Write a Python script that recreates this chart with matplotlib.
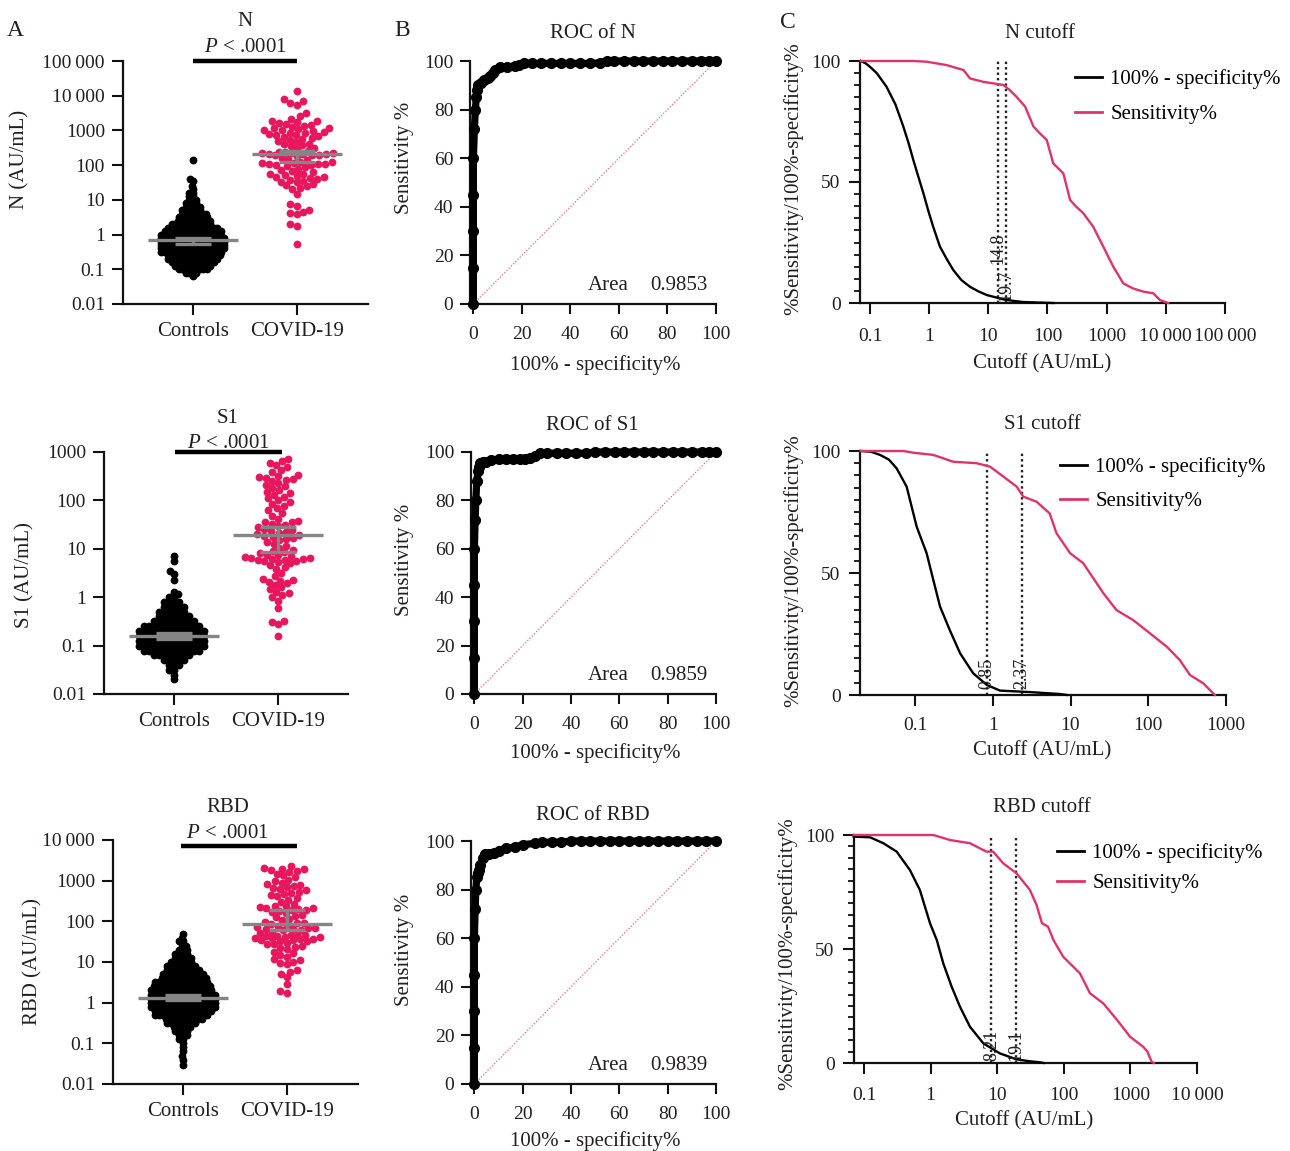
import numpy as np
import matplotlib
matplotlib.use('Agg')
import matplotlib.pyplot as plt
from matplotlib.lines import Line2D
from matplotlib.ticker import FixedLocator, MultipleLocator, NullLocator

plt.rcParams['font.family'] = ['Liberation Serif', 'DejaVu Serif']
plt.rcParams['mathtext.fontset'] = 'custom'
plt.rcParams['mathtext.rm'] = 'Liberation Serif'
plt.rcParams['mathtext.it'] = 'Liberation Serif:italic'

# ----------------------------------------------------------------- DATA
groups = ['Controls', 'COVID-19']

# --- N  (controls given as value levels and number of dots at each level)
ctrl_N_levels = [0.063, 0.079, 0.10, 0.126, 0.158, 0.20, 0.25, 0.32, 0.40, 0.50, 0.63, 0.79,
                 1.0, 1.26, 1.58, 2.0, 2.5, 3.2, 4.0, 5.0, 6.3, 7.9, 10, 12.6, 15.8, 20, 25, 35, 40, 140]
ctrl_N_counts = [1, 4, 9, 11, 13, 15, 16, 18, 19, 19, 19, 19,
                 18, 17, 15, 12, 10, 9, 8, 6, 5, 4, 3, 2, 2, 1, 1, 1, 1, 1]
covid_N = [0.55, 1.8, 2.0, 3.8, 4.3, 4.6, 5.0, 6.5, 7.5, 15, 20, 22, 24.5, 26, 28,
           32, 33.5, 36, 38, 40, 42, 45, 47, 50, 52, 55, 57, 62, 68, 73, 80, 88, 95,
           100, 102, 105, 108, 110, 113, 116, 120, 123, 140, 150, 165, 180,
           190, 194, 200, 205, 210, 214, 220, 226, 230, 235, 240, 260, 290, 320, 350, 372, 395,
           420, 460, 500, 540, 580, 620, 650, 690, 720, 760, 800, 840, 870,
           900, 950, 1000, 1050, 1100, 1150, 1200, 1280, 1350, 1450, 1550, 1650, 1750, 1850, 1900,
           2200, 2600, 3200, 5500, 6200, 7000, 7800, 14000]
med_N = [0.68, 204]
ci_lo_N = [0.55, 122]
ci_hi_N = [0.82, 257]

# --- S1
ctrl_S1_levels = [0.02, 0.025, 0.032, 0.04, 0.05, 0.063, 0.079, 0.10, 0.126, 0.158, 0.20, 0.25,
                  0.32, 0.40, 0.50, 0.63, 0.79, 1.0, 1.15, 1.3, 2.3, 3.0, 3.5, 5.5, 7.0]
ctrl_S1_counts = [1, 1, 2, 3, 5, 8, 12, 14, 14, 14, 14, 12,
                  9, 7, 6, 5, 4, 2, 1, 1, 1, 1, 1, 1, 1]
covid_S1 = [0.16, 0.28, 0.31, 0.33, 0.6, 0.85, 1.0, 1.1, 1.2, 1.3, 1.45, 1.6, 1.8, 1.95,
            2.1, 2.2, 2.3, 2.4, 2.7, 3.2, 3.9, 4.2, 4.6, 5.0, 5.3,
            5.5, 5.7, 5.9, 6.0, 6.2, 6.3, 6.4, 6.5, 6.8, 7.0, 7.3, 7.6, 8.0, 8.5, 9.0, 9.5,
            10.5, 11.5, 12.5, 14, 15, 16, 16.8, 17.5, 18.5, 19, 20, 21, 22, 23.5, 25, 26,
            28, 30, 31, 33, 35, 36.5, 38, 42, 48, 55, 62, 70, 78, 85, 92, 100,
            110, 120, 130, 140, 150, 165, 180, 195, 210, 230, 250,
            265, 280, 295, 310, 325, 340, 380, 430, 490, 540, 600, 650, 700]
med_S1 = [0.158, 19.3]
ci_lo_S1 = [0.14, 8.5]
ci_hi_S1 = [0.18, 28]

# --- RBD
ctrl_RBD_levels = [0.03, 0.04, 0.05, 0.063, 0.079, 0.10, 0.126, 0.158, 0.20, 0.25, 0.32, 0.40,
                   0.50, 0.63, 0.79, 1.0, 1.26, 1.58, 2.0, 2.5, 3.2, 4.0, 5.0, 6.3, 7.9,
                   10, 12.6, 15.8, 20, 25, 32, 40, 50]
ctrl_RBD_counts = [1, 1, 1, 1, 1, 1, 2, 3, 4, 5, 8, 10,
                   14, 15, 17, 17, 17, 17, 16, 15, 14, 12, 11, 9, 8,
                   6, 5, 4, 3, 2, 2, 1, 1]
covid_RBD = [1.7, 1.9, 2.8, 4.2, 5.0, 5.8, 6.5, 9.0, 9.5, 10, 11, 12, 13.5, 15, 16.5, 18,
             20.5, 22, 23.5, 25, 27, 28.5, 30, 32, 33, 34, 35, 36, 37, 38.5,
             40, 41, 42, 43, 44, 45, 46, 46.8, 52, 56, 60, 62, 64, 66, 68, 69,
             73, 77, 81, 85, 89, 93, 97, 105, 115, 125, 135, 145, 158, 170,
             180, 188, 195, 203, 210, 218, 225, 235, 245, 270, 300, 340, 380,
             410, 440, 470, 500, 540, 580, 620, 660, 700, 740, 790, 840, 900, 960,
             1050, 1200, 1350, 1500, 1600, 1700, 1800, 1900, 1950, 2050, 2300]
med_RBD = [1.33, 87]
ci_lo_RBD = [1.15, 62]
ci_hi_RBD = [1.52, 185]

# --- ROC curves (100% - specificity%, sensitivity%)
roc_N_fpr = [0, 0, 0, 0, 0, 0.4, 0.8, 1.2, 1.6, 2.0, 3.0, 4.5, 6.0, 7.0, 8.0, 9.0, 11, 14, 17, 19, 21,
             24, 28, 32, 36, 40, 44, 48, 52, 55, 58, 62, 66, 70, 74, 78, 82, 86, 90, 94, 97, 100]
roc_N_tpr = [0, 15, 30, 45, 60, 72, 80, 85, 88, 90, 91, 92, 93, 94, 95, 96.5, 97.5, 97.5, 98, 98.5, 99,
             99, 99, 99, 99, 99, 99, 99, 99.2, 100, 100, 100, 100, 100, 100, 100, 100, 100, 100, 100, 100, 100]
roc_S1_fpr = [0, 0, 0, 0, 0, 0.3, 0.6, 1.0, 1.5, 2.0, 2.5, 3.5, 5, 7, 10, 13, 16, 19, 21, 23, 25, 27,
              30, 34, 38, 42, 46, 50, 54, 58, 62, 66, 70, 74, 78, 82, 86, 90, 94, 97, 100]
roc_S1_tpr = [0, 15, 30, 45, 60, 72, 80, 88, 92, 94, 95.5, 96, 96, 96.5, 97, 97, 97, 97, 97, 97.5, 98.5, 99.5,
              99.5, 99.5, 99.5, 99.5, 99.5, 100, 100, 100, 100, 100, 100, 100, 100, 100, 100, 100, 100, 100, 100]
roc_RBD_fpr = [0, 0, 0, 0, 0, 0.3, 0.6, 1.0, 1.5, 2.0, 2.5, 3.5, 4.5, 6, 8, 10, 13, 17, 20, 25, 28,
               32, 36, 40, 44, 48, 52, 56, 60, 64, 68, 72, 76, 80, 84, 88, 92, 96, 100]
roc_RBD_tpr = [0, 15, 30, 45, 60, 72, 80, 85, 87, 88, 90, 93, 94.5, 94.5, 95, 96, 97, 97.5, 98.5, 99, 99.5,
               99.5, 99.5, 100, 100, 100, 100, 100, 100, 100, 100, 100, 100, 100, 100, 100, 100, 100, 100]
roc_area = ['0.9853', '0.9859', '0.9839']

# --- Cutoff curves (cutoff AU/mL, percent)
cutN_blk_x = [0.07, 0.085, 0.1, 0.13, 0.19, 0.27, 0.366, 0.45, 0.54, 0.66, 0.8, 0.97, 1.17, 1.52, 2.0,
              2.56, 3.5, 4.9, 6.8, 9.4, 13, 17.9, 26, 39, 70, 126]
cutN_blk_y = [100, 99, 97.6, 95, 89.4, 82, 72.9, 66, 59.1, 52, 45.3, 38, 31.5, 23.3, 18,
              13.6, 9.5, 6.7, 4.8, 3.3, 2.4, 1.5, 0.9, 0.4, 0.2, 0]
cutN_red_x = [0.07, 0.54, 0.91, 1.98, 3.0, 3.8, 4.9, 8.2, 17.9, 23, 30, 42, 58, 75, 97, 125, 185, 241,
              300, 403, 594, 877, 1295, 1910, 2800, 4160, 6140, 7970, 11000]
cutN_red_y = [100, 100, 99.7, 98.3, 97, 96.3, 92.8, 91.4, 90.1, 88, 85.2, 81.1, 72.9, 70, 67.4, 57.7, 53.6, 42.6,
              40, 37.1, 31.5, 23.3, 15.0, 8.1, 6, 4.7, 4.0, 1.2, 0]
cutN_lines = [14.8, 19.7]

cutS1_blk_x = [0.02, 0.027, 0.0355, 0.046, 0.058, 0.078, 0.105, 0.141, 0.172, 0.21, 0.28, 0.38, 0.56,
               0.84, 1.24, 3.0, 7.3, 9.0]
cutS1_blk_y = [100, 99.7, 98.4, 96.5, 92.9, 85.4, 69.0, 58.1, 47.1, 36.2, 26.6, 17.1, 8.9,
               4.1, 1.8, 1.2, 0.4, 0]
cutS1_red_x = [0.02, 0.071, 0.095, 0.172, 0.31, 0.62, 0.92, 1.37, 2.03, 2.47, 3.67, 5.4, 6.6, 9.9, 14.6,
               17.8, 26.5, 39, 64, 105, 173, 255, 344, 510, 720]
cutS1_red_y = [100, 100, 99.3, 98.4, 95.6, 95.0, 93.6, 89.5, 85.4, 81.3, 79.2, 74.4, 66.3, 58.1, 54.0,
               49.9, 41.7, 34.8, 30.7, 25.3, 19.8, 14.3, 8.2, 4.8, 0]
cutS1_lines = [0.85, 2.37]

cutRBD_blk_x = [0.07, 0.123, 0.195, 0.31, 0.49, 0.69, 0.98, 1.24, 1.55, 2.07, 2.76, 3.9, 6.2, 11, 19.5,
                30, 44, 50]
cutRBD_blk_y = [99.3, 99.0, 96.4, 92.7, 84.6, 75.9, 61.3, 53.9, 43.7, 33.5, 24.7, 15.9, 8.6, 4.2, 1.6,
                0.8, 0.3, 0]
cutRBD_red_x = [0.07, 1.1, 1.95, 3.9, 6.9, 8.7, 12.3, 19.5, 31, 39, 47, 58, 70, 98, 175, 247, 390, 630,
                990, 1560, 1800, 2080, 2250]
cutRBD_red_y = [100, 100, 97.8, 96.4, 92.7, 92.7, 87.6, 83.2, 75.9, 69.3, 61.3, 59.8, 53.9, 46.6, 39.3,
                30.6, 26.2, 18.9, 11.5, 7.1, 5.0, 0.6, 0]
cutRBD_lines = [8.21, 19.1]

# ----------------------------------------------------------------- STYLE
W, H = 1290, 1151
fig = plt.figure(figsize=(W / 100, H / 100), dpi=100)
PINK_DOT = '#E8175D'
PINK_LINE = '#E0336B'
GRAY = '#858585'
TXT = '#231F20'
FS = 15
TFS = 14


def add_ax(L, R, T, B):
    return fig.add_axes([L / W, 1 - B / H, (R - L) / W, (B - T) / H])


def ftext(x, y, s, **kw):
    kw.setdefault('fontsize', FS)
    kw.setdefault('color', TXT)
    kw.setdefault('ha', 'center')
    kw.setdefault('va', 'center')
    fig.text(x / W, 1 - y / H, s, **kw)


def style(ax, ticklen=7, pad=4):
    for s in ['top', 'right']:
        ax.spines[s].set_visible(False)
    for s in ['left', 'bottom']:
        ax.spines[s].set_linewidth(1.6)
        ax.spines[s].set_color('#111111')
    ax.tick_params(which='major', direction='out', length=ticklen, width=1.5, color='#111111',
                   labelsize=TFS, labelcolor=TXT, pad=pad)
    ax.tick_params(which='minor', direction='out', length=4, width=1.3, color='#111111')


def swarm(ypix, d, maxhalf):
    order = np.argsort(ypix, kind='stable')
    cand = np.arange(-maxhalf, maxhalf + 0.01, 0.5)
    cand = cand[np.argsort(np.abs(cand), kind='stable')]
    PX, PY = [], []
    xs = np.zeros(len(ypix))
    for i in order:
        y = ypix[i]
        x = 0.0
        if PX:
            ax_ = np.array(PX); ay_ = np.array(PY)
            m = np.abs(ay_ - y) < d
            if m.any():
                dx = cand[:, None] - ax_[m][None, :]
                dist = np.sqrt(dx ** 2 + ((ay_[m] - y) ** 2)[None, :]).min(axis=1)
                ok = np.where(dist >= d * 0.999)[0]
                x = cand[ok[0]] if len(ok) else cand[np.argmax(dist)]
        xs[i] = x
        PX.append(x); PY.append(y)
    return xs


def scatter_panel(box, xlim, ylim, yticks, ylabels, levels, counts, covid, med, lo, hi, bar):
    ax = add_ax(*box)
    ax.set_yscale('log')
    ax.set_ylim(*ylim)
    ax.set_xlim(*xlim)
    style(ax, ticklen=8, pad=5)
    ax.yaxis.set_major_locator(FixedLocator(yticks))
    ax.yaxis.set_minor_locator(NullLocator())
    ax.set_yticklabels(ylabels)
    ax.set_xticks([0, 1])
    ax.set_xticklabels(groups, fontsize=FS)
    ppu = (box[1] - box[0]) / (xlim[1] - xlim[0])
    dm = 7.8
    # pixel height of one 0.1-decade step -> spacing of control dots
    row_px = (box[3] - box[2]) / (10 * np.log10(ylim[1] / ylim[0]))
    ds_ctrl = min(4.6, 0.98 * row_px)
    for gi, (vals, col, ds, mh) in enumerate([(np.repeat(levels, counts), 'black', ds_ctrl, 37),
                                              (np.array(covid, float), PINK_DOT, 6.6, 36)]):
        ypix = ax.transData.transform(np.column_stack([np.zeros(len(vals)), vals]))[:, 1]
        xs = swarm(ypix, ds, mh)
        ax.scatter(gi + xs / ppu, vals, s=(dm * 0.72) ** 2, c=col, linewidths=0, zorder=2, clip_on=False)
        ax.hlines(med[gi], gi - 0.43, gi + 0.43, color=GRAY, lw=2.4, zorder=4)
        ax.vlines(gi, lo[gi], hi[gi], color=GRAY, lw=2.4, zorder=4)
        ax.hlines([lo[gi], hi[gi]], gi - 0.17, gi + 0.17, color=GRAY, lw=2.4, zorder=4)
    ax.plot([bar[0], bar[1]], [bar[2], bar[2]], color='black', lw=3.2, clip_on=False,
            solid_capstyle='butt', zorder=5)
    return ax


def roc_panel(box, fpr, tpr, area):
    ax = add_ax(*box)
    ax.set_xlim(-1.4, 100)
    ax.set_ylim(0, 100)
    style(ax, ticklen=7, pad=9)
    ax.set_xticks([0, 20, 40, 60, 80, 100])
    ax.set_yticks([0, 20, 40, 60, 80, 100])
    ax.tick_params(axis='y', pad=5)
    ax.plot([0, 100], [0, 100], color='#E46A6A', lw=0.9, ls=(0, (1, 1.5)), zorder=2)
    ax.plot(fpr, tpr, color='black', lw=5.2, marker='o', ms=7.0, clip_on=False, zorder=3)
    ax.text(47, 7.5, 'Area', fontsize=FS, color=TXT, ha='left', va='center')
    ax.text(96.5, 7.5, area, fontsize=FS, color=TXT, ha='right', va='center')
    return ax


def cutoff_panel(box, xlim, xticks, xlabels, bx, by, rx, ry, lines, line_lab_y, leg, xpad):
    ax = add_ax(*box)
    ax.set_xscale('log')
    ax.set_xlim(*xlim)
    ax.set_ylim(0, 100)
    style(ax, ticklen=8, pad=6)
    ax.tick_params(axis='x', pad=xpad)
    ax.xaxis.set_major_locator(FixedLocator(xticks))
    ax.xaxis.set_minor_locator(NullLocator())
    ax.set_xticklabels(xlabels)
    ax.set_yticks([0, 50, 100])
    ax.yaxis.set_minor_locator(MultipleLocator(5))
    ax.plot(bx, by, color='black', lw=1.7, zorder=3, clip_on=False)
    ax.plot(rx, ry, color=PINK_LINE, lw=1.7, zorder=3, clip_on=False)
    for v, ly in zip(lines, line_lab_y):
        ax.plot([v, v], [0, 100], color='#222222', lw=1.7, ls=(0, (1, 1.3)), zorder=2)
        ax.text(v, ly, f'{v:g}', rotation=90, fontsize=13, color=TXT, ha='center', va='bottom', zorder=4)
    handles = [Line2D([], [], color='black', lw=2.0), Line2D([], [], color=PINK_LINE, lw=2.0)]
    ax.legend(handles, ['100% - specificity%', 'Sensitivity%'], loc='upper left',
              bbox_to_anchor=(leg[0] / W, 1 - leg[1] / H), bbox_transform=fig.transFigure,
              frameon=False, fontsize=FS, handlelength=1.3, handletextpad=0.4,
              labelspacing=leg[2], borderpad=0, borderaxespad=0)
    return ax


TS = '\u2009'
# ----------------------------------------------------------------- PANEL A
scatter_panel((123, 368, 61, 304), (-0.673, 1.683), (0.01, 1e5),
              [0.01, 0.1, 1, 10, 100, 1000, 1e4, 1e5],
              ['0.01', '0.1', '1', '10', '100', '1000', f'10{TS}000', f'100{TS}000'],
              ctrl_N_levels, ctrl_N_counts, covid_N, med_N, ci_lo_N, ci_hi_N, (0, 1, 1e5))
scatter_panel((104, 348, 452, 694), (-0.673, 1.673), (0.01, 1e3),
              [0.01, 0.1, 1, 10, 100, 1000],
              ['0.01', '0.1', '1', '10', '100', '1000'],
              ctrl_S1_levels, ctrl_S1_counts, covid_S1, med_S1, ci_lo_S1, ci_hi_S1, (0.01, 1.04, 1e3))
scatter_panel((113, 358, 840, 1084), (-0.673, 1.683), (0.01, 1e4),
              [0.01, 0.1, 1, 10, 100, 1000, 1e4],
              ['0.01', '0.1', '1', '10', '100', '1000', f'10{TS}000'],
              ctrl_RBD_levels, ctrl_RBD_counts, covid_RBD, med_RBD, ci_lo_RBD, ci_hi_RBD, (-0.02, 1.1, 7000))

ftext(15, 31, 'A', fontsize=17)
for (x, y, s) in [(245, 22, 'N'), (228, 419, 'S1'), (228, 807, 'RBD')]:
    ftext(x, y, s)
for (x, y) in [(245, 47), (228, 444), (227, 834)]:
    ftext(x, y, '$P$ < .0001')
ftext(20, 159, 'N (AU/mL)', rotation=90)
ftext(25, 575, 'S1 (AU/mL)', rotation=90)
ftext(33, 962, 'RBD (AU/mL)', rotation=90)

# ----------------------------------------------------------------- PANEL B
roc_panel((470, 716, 61, 304), roc_N_fpr, roc_N_tpr, roc_area[0])
roc_panel((471, 716, 452, 694), roc_S1_fpr, roc_S1_tpr, roc_area[1])
roc_panel((471, 716, 841, 1084), roc_RBD_fpr, roc_RBD_tpr, roc_area[2])
ftext(402, 31, 'B', fontsize=17)
for (x, y, s) in [(593, 33, 'ROC of N'), (592, 425, 'ROC of S1'), (593, 815, 'ROC of RBD')]:
    ftext(x, y, s)
for y in [158, 560, 950]:
    ftext(405, y, 'Sensitivity %', rotation=90)
for y in [365, 753, 1141]:
    ftext(595, y, '100% - specificity%')

# ----------------------------------------------------------------- PANEL C
cutoff_panel((860, 1225, 61, 303), (0.0678, 1e5), [0.1, 1, 10, 100, 1000, 1e4, 1e5],
             ['0.1', '1', '10', '100', '1000', f'10{TS}000', f'100{TS}000'],
             cutN_blk_x, cutN_blk_y, cutN_red_x, cutN_red_y, cutN_lines, [16, 0.8], (1075, 69, 0.75), 10)
cutoff_panel((860, 1226, 451, 695), (0.0196, 1000), [0.1, 1, 10, 100, 1000],
             ['0.1', '1', '10', '100', '1000'],
             cutS1_blk_x, cutS1_blk_y, cutS1_red_x, cutS1_red_y, cutS1_lines, [2.5, 2.5], (1060, 457, 0.7), 8)
cutoff_panel((854, 1197, 835, 1063), (0.0708, 1e4), [0.1, 1, 10, 100, 1000, 1e4],
             ['0.1', '1', '10', '100', '1000', f'10{TS}000'],
             cutRBD_blk_x, cutRBD_blk_y, cutRBD_red_x, cutRBD_red_y, cutRBD_lines, [0.8, 0.8], (1057, 843, 0.5), 9)
ftext(788, 23, 'C', fontsize=17)
for (x, y, s) in [(1040, 33, 'N cutoff'), (1042, 424, 'S1 cutoff'), (1042, 807, 'RBD cutoff')]:
    ftext(x, y, s)
for (x, y) in [(793, 179), (793, 571), (787, 954)]:
    ftext(x, y, '%Sensitivity/100%-specificity%', rotation=90)
for (x, y) in [(1042, 364), (1042, 751), (1024, 1121)]:
    ftext(x, y, 'Cutoff (AU/mL)')

fig.savefig('out.png', dpi=100)
